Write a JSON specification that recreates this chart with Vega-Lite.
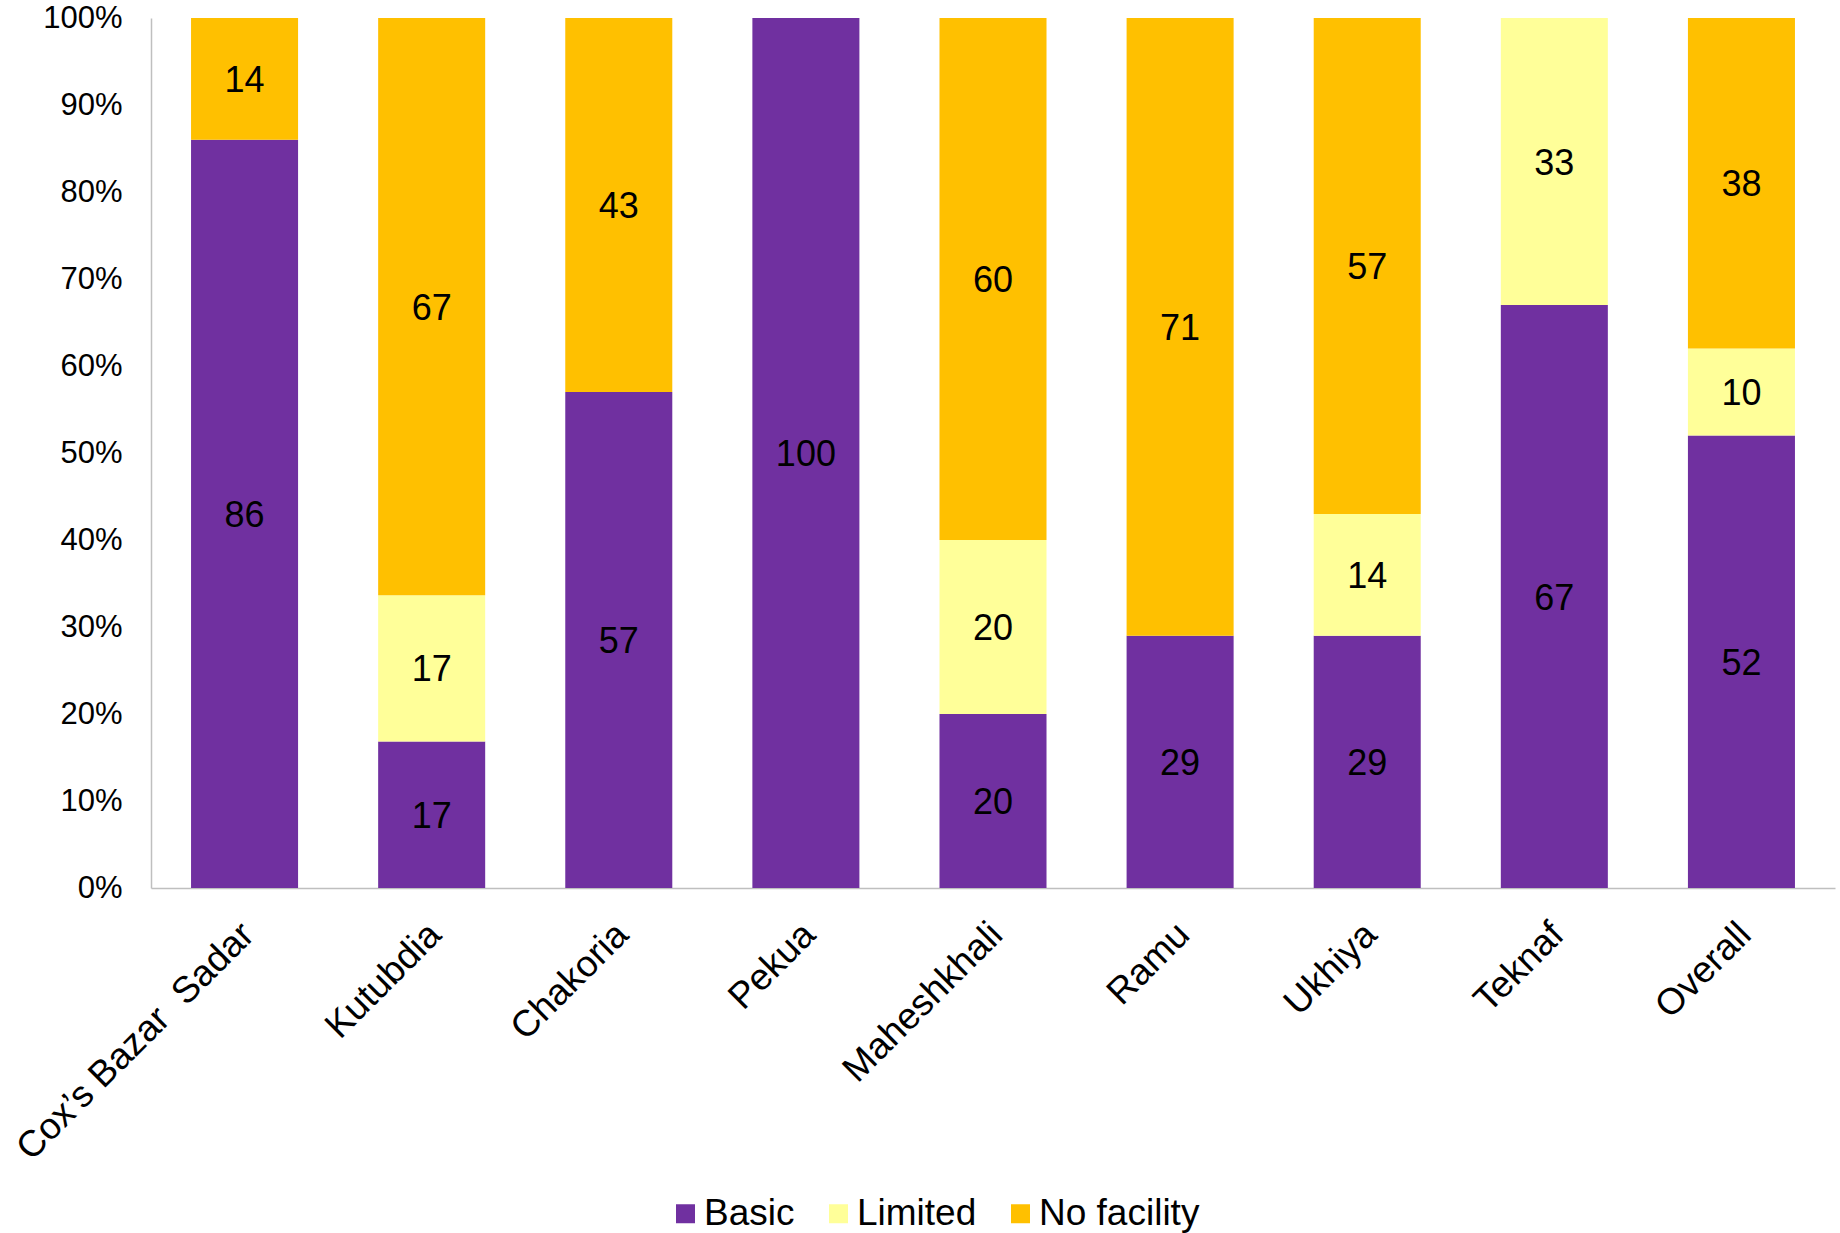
{
  "$schema": "https://vega.github.io/schema/vega-lite/v6.json",
  "width": 1684,
  "height": 870,
  "autosize": {"type": "none"},
  "padding": {"left": 151, "top": 18, "right": 5, "bottom": 345},
  "background": "#ffffff",
  "config": {
    "view": {"stroke": null},
    "font": "Liberation Sans",
    "axis": {"labelFont": "Liberation Sans", "labelColor": "#000000", "grid": false, "ticks": false}
  },
  "data": {
    "values": [
      {"district": "Cox’s Bazar \u00a0Sadar", "category": "Basic", "value": 86},
      {"district": "Cox’s Bazar \u00a0Sadar", "category": "No facility", "value": 14},
      {"district": "Kutubdia", "category": "Basic", "value": 17},
      {"district": "Kutubdia", "category": "Limited", "value": 17},
      {"district": "Kutubdia", "category": "No facility", "value": 67},
      {"district": "Chakoria", "category": "Basic", "value": 57},
      {"district": "Chakoria", "category": "No facility", "value": 43},
      {"district": "Pekua", "category": "Basic", "value": 100},
      {"district": "Maheshkhali", "category": "Basic", "value": 20},
      {"district": "Maheshkhali", "category": "Limited", "value": 20},
      {"district": "Maheshkhali", "category": "No facility", "value": 60},
      {"district": "Ramu", "category": "Basic", "value": 29},
      {"district": "Ramu", "category": "No facility", "value": 71},
      {"district": "Ukhiya", "category": "Basic", "value": 29},
      {"district": "Ukhiya", "category": "Limited", "value": 14},
      {"district": "Ukhiya", "category": "No facility", "value": 57},
      {"district": "Teknaf", "category": "Basic", "value": 67},
      {"district": "Teknaf", "category": "Limited", "value": 33},
      {"district": "Overall", "category": "Basic", "value": 52},
      {"district": "Overall", "category": "Limited", "value": 10},
      {"district": "Overall", "category": "No facility", "value": 38}
    ]
  },
  "encoding": {
    "x": {
      "field": "district",
      "type": "nominal",
      "sort": null,
      "scale": {"paddingInner": 0.428, "paddingOuter": 0.214},
      "axis": {
        "title": null,
        "labelAngle": -45,
        "labelAlign": "right",
        "labelBaseline": "top",
        "labelFontSize": 37,
        "labelPadding": 28,
        "labelOffset": -9,
        "labelLimit": 0,
        "domainColor": "#BFBFBF",
        "domainWidth": 1.5
      }
    }
  },
  "layer": [
    {
      "mark": {"type": "bar"},
      "encoding": {
        "y": {
          "field": "value",
          "type": "quantitative",
          "stack": "normalize",
          "scale": {"domain": [0, 1], "nice": false},
          "axis": {
            "title": null,
            "format": ".0%",
            "values": [0, 0.1, 0.2, 0.3, 0.4, 0.5, 0.6, 0.7, 0.8, 0.9, 1],
            "labelFontSize": 31,
            "labelPadding": 29,
            "domainColor": "#BFBFBF",
            "domainWidth": 1.5
          }
        },
        "color": {
          "field": "category",
          "type": "nominal",
          "scale": {
            "domain": ["Basic", "Limited", "No facility"],
            "range": ["#7030A0", "#FFFF99", "#FFC000"]
          },
          "legend": {
            "title": null,
            "orient": "none",
            "direction": "horizontal",
            "legendX": 516,
            "legendY": 1177,
            "padding": 0,
            "symbolType": "square",
            "symbolSize": 361,
            "symbolStrokeWidth": 0,
            "labelFont": "Liberation Sans",
            "labelFontSize": 37,
            "labelColor": "#000000",
            "labelOffset": 0,
            "columnPadding": 25,
            "labelLimit": 0
          }
        },
        "order": {"field": "category", "sort": "ascending"}
      }
    },
    {
      "transform": [
        {
          "stack": "value",
          "groupby": ["district"],
          "sort": [{"field": "category", "order": "ascending"}],
          "offset": "normalize",
          "as": ["lo", "hi"]
        },
        {"calculate": "(datum.lo + datum.hi) / 2", "as": "labelPos"}
      ],
      "mark": {
        "type": "text",
        "font": "Liberation Sans",
        "fontSize": 36,
        "color": "#000000",
        "baseline": "middle",
        "align": "center",
        "dy": 2
      },
      "encoding": {
        "y": {"field": "labelPos", "type": "quantitative"},
        "text": {"field": "value", "type": "quantitative"}
      }
    }
  ]
}
